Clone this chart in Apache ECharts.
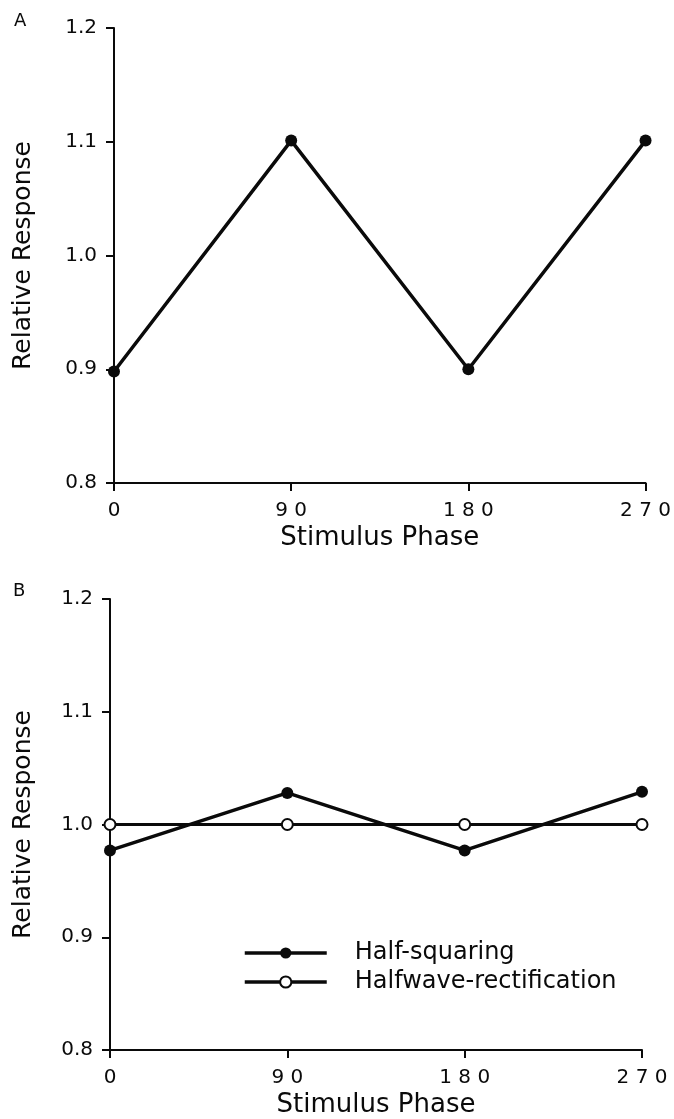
<!DOCTYPE html>
<html>
<head>
<meta charset="UTF-8">
<title>Relative Response vs Stimulus Phase</title>
<style type="text/css">
   html, body{
      margin:0;
      padding:0;
      background-color:#ffffff;
   }
   #container{
      width:674px;
      height:1119px;
   }
</style>
</head>
<body>
<div id="container"></div>
<script src="https://cdn.jsdelivr.net/npm/echarts@6/dist/echarts.min.js"></script>
<script type="text/javascript">
// data
var phases = [0, 90, 180, 270];
var phaseTicks = ['0', '90', '180', '270'];
var panelA = [0.898, 1.101, 0.900, 1.101];
var halfSquaring = [0.977, 1.028, 0.977, 1.029];
var halfwaveRect = [1.000, 1.000, 1.000, 1.000];

var ink = '#0a0a0a';
var font = 'DejaVu Sans';

function pairs(ys){
    var out = [];
    for(var i=0;i<phases.length;i++){
        out.push([phases[i], ys[i]]);
    }
    return out;
}

function xAxisFor(idx){
    return {
        type : 'value',
        gridIndex : idx,
        min : 0,
        max : 270,
        interval : 90,
        name : 'Stimulus Phase',
        nameLocation : 'middle',
        nameGap : 42,
        nameTextStyle : { color: ink, fontFamily: font, fontSize: 26 },
        axisLine : { lineStyle: { color: ink, width: 2 } },
        axisTick : { inside: false, length: 8, lineStyle: { color: ink, width: 2 } },
        splitLine : { show: false },
        axisLabel : {
            margin : 18,
            color : ink,
            fontFamily : font,
            fontSize : 20,
            formatter : function(v){
                var s = phaseTicks[phases.indexOf(v)];
                return s ? s.split('').join(' ') : '';
            }
        }
    };
}

function yAxisFor(idx, gap){
    return {
        type : 'value',
        gridIndex : idx,
        min : 0.8,
        max : 1.2,
        interval : 0.1,
        name : 'Relative Response',
        nameLocation : 'middle',
        nameGap : gap,
        nameTextStyle : { color: ink, fontFamily: font, fontSize: 25 },
        axisLine : { show: true, lineStyle: { color: ink, width: 2 } },
        axisTick : { show: true, inside: false, length: 8, lineStyle: { color: ink, width: 2 } },
        splitLine : { show: false },
        axisLabel : {
            margin : 17,
            color : ink,
            fontFamily : font,
            fontSize : 20,
            formatter : function(v){ return v.toFixed(1); }
        }
    };
}

var dom = document.getElementById("container");
var myChart = echarts.init(dom);

var option = {
    animation : false,
    backgroundColor : '#ffffff',
    graphic : [
        { type: 'text', left: 14, top: 12, style: { text: 'A', fill: ink, fontFamily: font, fontSize: 18 } },
        { type: 'text', left: 13, top: 582, style: { text: 'B', fill: ink, fontFamily: font, fontSize: 18 } }
    ],
    grid : [
        { left: 114, top: 28, width: 532, height: 455 },
        { left: 110, top: 599, width: 532, height: 451 }
    ],
    xAxis : [ xAxisFor(0), xAxisFor(1) ],
    yAxis : [ yAxisFor(0, 78), yAxisFor(1, 74) ],
    legend : {
        data : ['Half-squaring', 'Halfwave-rectification'],
        orient : 'vertical',
        left : 238,
        top : 936,
        itemWidth : 82,
        itemHeight : 14,
        itemGap : 5,
        lineStyle : { width: 3.5 },
        textStyle : {
            color : ink,
            fontFamily : font,
            fontSize : 24,
            lineHeight : 24,
            padding : [0, 0, 0, 23]
        }
    },
    series : [
        {
            name : 'Panel A',
            type : 'line',
            xAxisIndex : 0,
            yAxisIndex : 0,
            data : pairs(panelA),
            symbol : 'circle',
            symbolSize : 12,
            lineStyle : { color: ink, width: 3.5 },
            itemStyle : { color: ink }
        },
        {
            name : 'Halfwave-rectification',
            type : 'line',
            xAxisIndex : 1,
            yAxisIndex : 1,
            data : pairs(halfwaveRect),
            symbol : 'circle',
            symbolSize : 11,
            lineStyle : { color: ink, width: 3 },
            itemStyle : { color: '#ffffff', borderColor: ink, borderWidth: 2 }
        },
        {
            name : 'Half-squaring',
            type : 'line',
            xAxisIndex : 1,
            yAxisIndex : 1,
            data : pairs(halfSquaring),
            symbol : 'circle',
            symbolSize : 12,
            lineStyle : { color: ink, width: 3.5 },
            itemStyle : { color: ink }
        }
    ]
};

myChart.setOption(option, true);
</script>
</body>
</html>
